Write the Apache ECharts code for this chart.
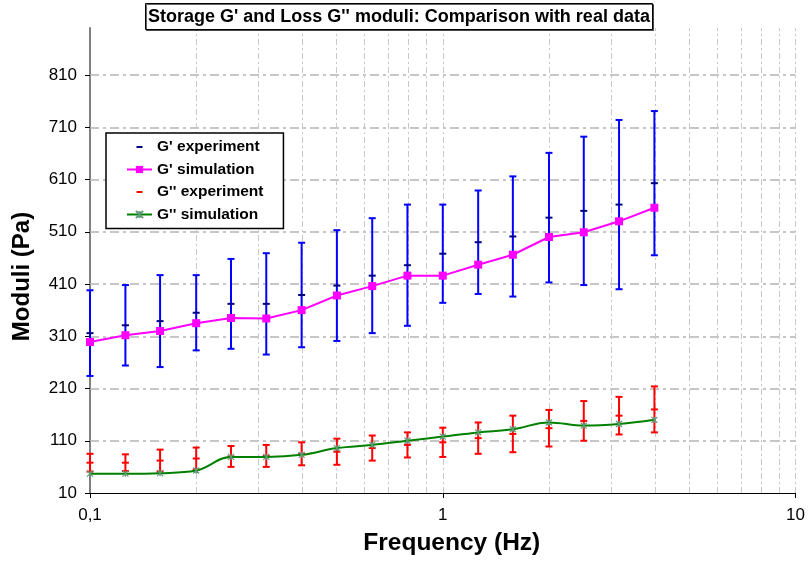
<!DOCTYPE html>
<html>
<head>
<meta charset="utf-8">
<script src="https://cdn.jsdelivr.net/npm/echarts@6/dist/echarts.min.js"></script>
<style>html,body{margin:0;padding:0;background:#fff}#c{width:808px;height:561px}</style>
</head>
<body>
<div id="c"></div>
<script>
const freq = [0.1, 0.126, 0.158, 0.2, 0.251, 0.316, 0.398, 0.501, 0.631, 0.794, 1, 1.26, 1.58, 2, 2.51, 3.16, 3.98];
const gpSim = [299, 312, 320, 335, 345, 344, 360, 388, 406, 426, 426, 447, 466, 500, 509, 530, 556];
const gpExpMean = [316, 331, 339, 355, 372, 372, 389, 407, 426, 446, 468, 490, 501, 537, 550, 562, 603];
const gpExpErr = [82, 77, 88, 72, 86, 97, 100, 106, 110, 116, 94, 99, 115, 124, 142, 162, 138];
const gppSim = [47, 47, 48, 53, 79, 79, 83, 96, 102, 110, 118, 126, 132, 145, 139, 142, 150];
const gppExpMean = [68, 68, 72, 76, 80, 81, 85, 89, 96, 102, 107, 115, 123, 134, 148, 158, 170];
const gppExpErr = [17, 16, 21, 21, 20, 21, 22, 25, 24, 24, 28, 30, 35, 35, 38, 36, 44];
const yTickValues = [10, 110, 210, 310, 410, 510, 610, 710, 810];
const yGridValues = [110, 210, 310, 410, 510, 610, 710, 810];
const xTickValues = [0.1, 1, 10];
const xTickLabels = ['0,1', '1', '10'];
const xGridValues = [0.2, 0.3, 0.4, 0.5, 0.6, 0.7, 0.8, 0.9, 1, 2, 3, 4, 5, 6, 7, 8, 9, 10];
const titleText = "Storage G' and Loss G'' moduli: Comparison with real data";
const seriesNames = ["G' experiment", "G' simulation", "G'' experiment", "G'' simulation"];

const FONT = "'Liberation Sans', Arial, sans-serif";
const dashIcon = 'path://M0,0 L0.05,0 L0,0.05 Z M25,9 L24.95,9 L25,8.95 Z M9.5,3.5 L15.5,3.5 L15.5,5.5 L9.5,5.5 Z';
const starPath = 'path://M0,0 L10,10 M10,0 L0,10 M5,0 L5,10';

function errorBar(barColor, meanColor) {
  return function (params, api) {
    const x = api.value(0), lo = api.value(1), hi = api.value(2), m = api.value(3);
    const a = api.coord([x, lo]), b = api.coord([x, hi]), c = api.coord([x, m]);
    const w = 3.5;
    const st = { stroke: barColor, lineWidth: 2 };
    return {
      type: 'group',
      children: [
        { type: 'line', shape: { x1: a[0], y1: a[1], x2: b[0], y2: b[1] }, style: st },
        { type: 'line', shape: { x1: a[0] - w, y1: a[1], x2: a[0] + w, y2: a[1] }, style: st },
        { type: 'line', shape: { x1: b[0] - w, y1: b[1], x2: b[0] + w, y2: b[1] }, style: st },
        { type: 'line', shape: { x1: c[0] - w, y1: c[1], x2: c[0] + w, y2: c[1] }, style: { stroke: meanColor, lineWidth: 2 } }
      ]
    };
  };
}

const chart = echarts.init(document.getElementById('c'), null, { renderer: 'canvas' });
chart.setOption({
  animation: false,
  backgroundColor: '#fff',
  textStyle: { fontFamily: FONT },
  title: {
    text: titleText,
    left: 145, top: 3,
    padding: [5, 3, 4, 3],
    borderColor: '#000', borderWidth: 1,
    backgroundColor: '#fff',
    shadowColor: 'rgba(0,0,0,0.6)', shadowOffsetX: 1, shadowOffsetY: 1, shadowBlur: 0,
    textStyle: { fontFamily: FONT, fontWeight: 'bold', fontSize: 18, color: '#000' },
    z: 10
  },
  legend: {
    orient: 'vertical',
    left: 106, top: 133,
    padding: [6, 20, 6, 20],
    itemWidth: 25, itemHeight: 9, itemGap: 6.5,
    borderColor: '#000', borderWidth: 1.5,
    backgroundColor: '#fff',
    textStyle: { fontFamily: FONT, fontWeight: 'bold', fontSize: 15.5, color: '#000' },
    data: [
      { name: seriesNames[0], icon: dashIcon, itemStyle: { color: '#000080' } },
      { name: seriesNames[1] },
      { name: seriesNames[2], icon: dashIcon, itemStyle: { color: '#ff0000' } },
      { name: seriesNames[3] }
    ],
    z: 10
  },
  grid: { left: 90, right: 11, top: 28, bottom: 68, containLabel: false },
  xAxis: {
    type: 'log', logBase: 10, min: 0.1, max: 10,
    name: 'Frequency (Hz)', nameLocation: 'middle', nameGap: 38,
    nameTextStyle: { fontFamily: FONT, fontWeight: 'bold', fontSize: 24.5, color: '#000', padding: [0, 0, 0, 18] },
    axisLine: { show: true, onZero: false, lineStyle: { color: '#000', width: 1 } },
    axisTick: { show: true, length: 5, lineStyle: { color: '#000' } },
    axisLabel: {
      fontFamily: FONT, fontSize: 17, color: '#000', margin: 14,
      formatter: function (v) { const i = xTickValues.findIndex(t => Math.abs(t - v) < 1e-9); return i >= 0 ? xTickLabels[i] : ''; }
    },
    splitLine: { show: false },
    minorTick: { show: false }
  },
  yAxis: {
    type: 'value', min: 10, max: 900,
    name: 'Moduli (Pa)', nameLocation: 'middle', nameGap: 56,
    nameTextStyle: { fontFamily: FONT, fontWeight: 'bold', fontSize: 24, color: '#000', padding: [0, 32, 0, 0] },
    axisLine: { show: true, lineStyle: { color: '#808080', width: 2 } },
    axisTick: { show: true, length: 5, customValues: yTickValues, lineStyle: { color: '#000' } },
    axisLabel: { fontFamily: FONT, fontSize: 17, color: '#000', margin: 13, customValues: yTickValues },
    splitLine: { show: false }
  },
  series: [
    {
      name: '_grid', type: 'line', data: [], z: 1, silent: true,
      markLine: {
        z: 1,
        silent: true, symbol: ['none', 'none'], label: { show: false }, animation: false,
        emphasis: { disabled: true },
        data: yGridValues.map(v => ({ yAxis: v, lineStyle: { color: '#b4b4b4', width: 1.6, type: [9, 4, 3, 4] } }))
          .concat(xGridValues.map(v => ({ xAxis: v, lineStyle: { color: '#c8c8c8', width: 1, type: [6, 3, 2, 3] } })))
      }
    },
    {
      name: seriesNames[0], type: 'custom', z: 3,
      itemStyle: { color: '#000080' },
      renderItem: errorBar('#0000ff', '#000080'),
      encode: { x: 0, y: [1, 2] },
      data: freq.map((f, i) => [f, gpExpMean[i] - gpExpErr[i], gpExpMean[i] + gpExpErr[i], gpExpMean[i]])
    },
    {
      name: seriesNames[1], type: 'line', z: 4,
      data: freq.map((f, i) => [f, gpSim[i]]),
      symbol: 'rect', symbolSize: 8,
      itemStyle: { color: '#ff00ff' },
      lineStyle: { color: '#ff00ff', width: 2 }
    },
    {
      name: seriesNames[2], type: 'custom', z: 3,
      itemStyle: { color: '#ff0000' },
      renderItem: errorBar('#ff0000', '#ff0000'),
      encode: { x: 0, y: [1, 2] },
      data: freq.map((f, i) => [f, gppExpMean[i] - gppExpErr[i], gppExpMean[i] + gppExpErr[i], gppExpMean[i]])
    },
    {
      name: seriesNames[3], type: 'line', z: 4,
      data: freq.map((f, i) => [f, gppSim[i]]),
      smooth: 0.4,
      symbol: starPath, symbolSize: 6,
      itemStyle: { color: 'rgba(0,0,0,0)', borderColor: '#5f9a78', borderWidth: 1.2 },
      lineStyle: { color: '#008000', width: 2 }
    }
  ]
});
</script>
</body>
</html>
